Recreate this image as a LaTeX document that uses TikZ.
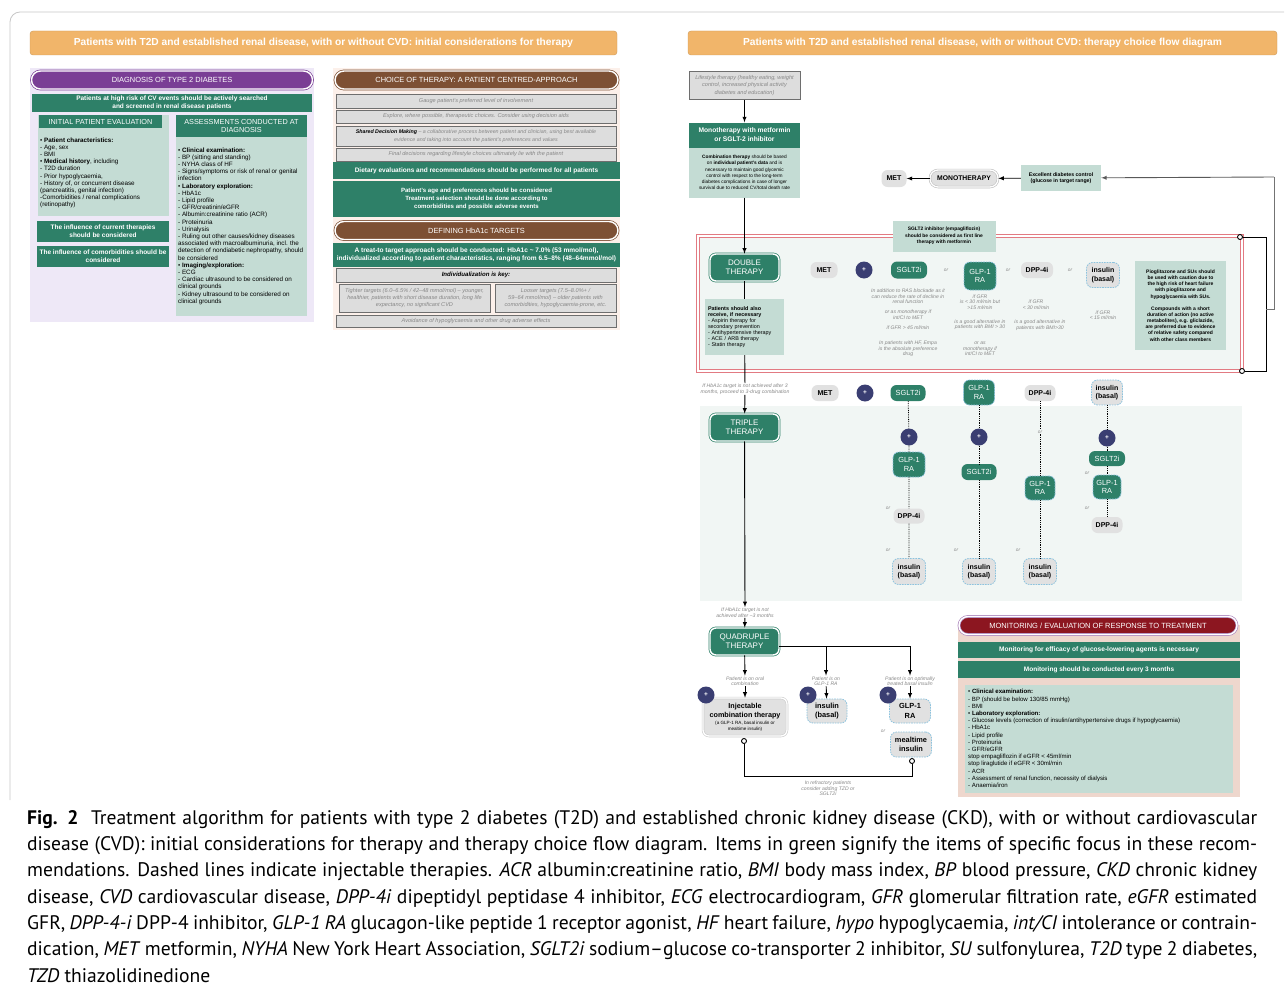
\documentclass[tikz,border=0pt]{standalone}
\usepackage{fontspec}
\setmainfont{Liberation Sans}
\newfontfamily\capfont{PT Sans}
\usetikzlibrary{positioning}

\newcommand\fsz[2]{\fontsize{#1}{#2}\selectfont}

\definecolor{tgreen}{RGB}{46,128,104}
\definecolor{lgreenc}{RGB}{196,220,212}
\definecolor{lavc}{RGB}{238,232,247}
\definecolor{purpc}{RGB}{122,62,149}
\definecolor{peachc}{RGB}{252,240,234}
\definecolor{brownc}{RGB}{125,80,52}
\definecolor{orngc}{RGB}{241,181,106}
\definecolor{gboxc}{RGB}{221,221,221}
\definecolor{glinec}{RGB}{110,110,110}
\definecolor{navyc}{RGB}{58,62,114}
\definecolor{redc}{RGB}{226,122,130}
\definecolor{areac}{RGB}{241,246,244}
\definecolor{monbgc}{RGB}{238,215,205}
\definecolor{dredc}{RGB}{140,22,32}
\definecolor{iblue}{RGB}{140,195,222}
\definecolor{pillc}{RGB}{225,225,225}
\definecolor{txtgray}{RGB}{135,135,135}

\tikzset{
  topbar/.style={fill=orngc, draw=orngc!85!black, rounded corners=3, text=white,
    font=\bfseries\fsz{10.2}{12}, minimum height=24},
  pillhdr/.style={rounded corners=9, fill=#1, draw=#1, double=white, double distance=1.4pt,
    line width=0.7, text=white, font=\fsz{7.45}{8.5}, minimum height=18},
  gbar/.style={fill=tgreen, text=white, font=\bfseries\fsz{6.5}{8}, align=center, inner sep=1},
  lhdr/.style={fill=tgreen, text=white, font=\fsz{7.3}{8.4}, align=center, inner sep=1},
  listtxt/.style={font=\fsz{6.3}{7.2}, align=left, anchor=north west, inner sep=0},
  gbox/.style={fill=gboxc, draw=glinec, line width=0.9, font=\itshape\fsz{5.6}{7.6},
    text=txtgray, align=center, inner sep=1},
  drug/.style={rounded corners=6, fill=pillc, font=\bfseries\fsz{7}{8.6}, align=center,
    inner sep=1.5, minimum height=16},
  sglt/.style={drug, fill=tgreen, text=white, font=\fsz{7.4}{8.8}},
  inj/.style={draw=iblue, line width=0.8, dash pattern=on 1.6pt off 1pt},
  plus/.style={circle, fill=navyc, text=white, font=\bfseries\fsz{6.5}{6.5}, minimum size=17, inner sep=0},
  note/.style={font=\itshape\fsz{5.1}{5.6}, text=txtgray, align=center, inner sep=0.5},
  orlab/.style={font=\itshape\fsz{4.8}{5}, text=txtgray, inner sep=0.5},
  therapy/.style={rounded corners=6, fill=tgreen, draw=tgreen, double=white, double distance=1.4pt,
    line width=0.7, text=white, font=\fsz{8}{9.3}, align=center, minimum width=69, minimum height=27},
  lnote/.style={fill=lgreenc, align=center, inner sep=1},
  dotend/.style={circle, draw, fill=white, line width=0.9, minimum size=5, inner sep=0},
  flow/.style={->, line width=0.9},
  link/.style={line width=0.9},
  dotline/.style={densely dotted, line width=0.8},
}

\begin{document}
\begin{tikzpicture}[x=1pt, y=-1pt, >=latex]
\useasboundingbox (0,0) rectangle (1285,998);
\draw[black!22, line width=0.8, rounded corners=10] (10,800) -- (10,12) -- (1284,12);

% top headers
\node[topbar, minimum width=587] (lefttop) at (323.5,43) {Patients with T2D and established renal disease, with or without CVD: initial considerations for therapy};
\node[topbar, minimum width=589] (righttop) at (982.5,43) {Patients with T2D and established renal disease, with or without CVD: therapy choice flow diagram};

% diagnosis panel
\fill[lavc] (30,68) rectangle (314,322);
\node[pillhdr=purpc, minimum width=281] (diaghdr) at (172,80) {DIAGNOSIS OF TYPE 2 DIABETES};
\node[gbar, minimum width=280, minimum height=18] (cvrisk) at (172,103) {Patients at high risk of CV events should be actively searched\\and screened in renal disease patients};
\fill[lgreenc] (38,115) rectangle (169,216);
\node[lhdr, minimum width=123, minimum height=13] (evalhdr) at (100.5,121.5) {INITIAL PATIENT EVALUATION};
\node[listtxt] (evallist) at (40,137.3) {\textbullet\ \textbf{Patient characteristics:}\\- Age, sex\\- BMI\\\textbullet\ \textbf{Medical history}, including\\- T2D duration\\- Prior hypoglycaemia,\\- History of, or concurrent disease\\(pancreatitis, genital infection)\\-Comorbidities / renal complications\\(retinopathy)};
\fill[lgreenc] (176,115) rectangle (307,316);
\node[lhdr, minimum width=131, minimum height=22] (assesshdr) at (241.5,126) {ASSESSMENTS CONDUCTED AT\\DIAGNOSIS};
\node[listtxt] (assesslist) at (178,147.3) {\textbullet\ \textbf{Clinical examination:}\\- BP (sitting and standing)\\- NYHA class of HF\\- Signs/symptoms or risk of renal or genital\\infection\\\textbullet\ \textbf{Laboratory exploration:}\\- HbA1c\\- Lipid profile\\- GFR/creatinin/eGFR\\- Albumin:creatinine ratio (ACR)\\- Proteinuria\\- Urinalysis\\- Ruling out other causes/kidney diseases\\associated with macroalbuminuria, incl. the\\detection of nondiabetic nephropathy, should\\be considered\\\textbullet\ \textbf{Imaging/exploration:}\\- ECG\\- Cardiac ultrasound to be considered on\\clinical grounds\\- Kidney ultrasound to be considered on\\clinical grounds};
\node[gbar, minimum width=132, minimum height=21] (curther) at (103,231.5) {The influence of current therapies\\should be considered};
\node[gbar, minimum width=132, minimum height=21] (comorb) at (103,256.5) {The influence of comorbidities should be\\considered};

% choice of therapy panel
\fill[peachc] (333,68) rectangle (620,330);
\node[pillhdr=brownc, minimum width=283] (choicehdr) at (476.5,80) {CHOICE OF THERAPY: A PATIENT CENTRED-APPROACH};
\node[gbox, minimum width=280, minimum height=14] (gauge) at (476,101) {Gauge patient's preferred level of involvement};
\node[gbox, minimum width=280, minimum height=13] (explore) at (476,116.5) {Explore, where possible, therapeutic choices. Consider using decision aids};
\node[gbox, minimum width=280, minimum height=20, font=\itshape\fsz{5.3}{7.6}] (sdm) at (476,136) {{\color{black}\bfseries Shared Decision Making} – a collaborative process between patient and clinician, using best available\\evidence and taking into account the patient's preferences and values};
\node[gbox, minimum width=280, minimum height=13] (final) at (476,154.5) {Final decisions regarding lifestyle choices ultimately lie with the patient};
\node[gbar, minimum width=287, minimum height=17, font=\bfseries\fsz{6.5}{8}] (diet) at (476.5,170.5) {Dietary evaluations and recommendations should be performed for all patients};
\node[gbar, minimum width=287, minimum height=36, font=\bfseries\fsz{6.1}{8.3}] (agepref) at (476.5,199) {Patient's age and preferences should be considered\\Treatment selection should be done according to\\comorbidities and possible adverse events};
\node[pillhdr=brownc, minimum width=283] (hbahdr) at (476.5,230.5) {DEFINING HbA1c TARGETS};
\node[gbar, minimum width=287, minimum height=24, font=\bfseries\fsz{6.55}{8.2}] (t2t) at (476.5,255) {A treat-to target approach should be conducted: HbA1c \textasciitilde\ 7.0\% (53 mmol/mol),\\individualized according to patient characteristics, ranging from 6.5–8\% (48–64mmol/mol)};
\node[gbox, minimum width=280, minimum height=14, font=\bfseries\itshape\fsz{6.1}{7}, text=black] (indiv) at (476,275) {Individualization is key:};
\node[gbox, minimum width=151, minimum height=28, font=\itshape\fsz{5.6}{6.8}] (tight) at (414.5,298) {Tighter targets (6.0–6.5\% / 42–48 mmol/mol) – younger,\\healthier, patients with short disease duration, long life\\expectancy, no significant CVD};
\node[gbox, minimum width=121, minimum height=28, font=\itshape\fsz{5.6}{6.8}] (loose) at (555.5,298) {Looser targets (7.5–8.0\%+ /\\59–64 mmol/mol) – older patients with\\comorbidities, hypoglycaemia-prone, etc.};
\node[gbox, minimum width=280, minimum height=12] (avoid) at (476,321) {Avoidance of hypoglycaemia and other drug adverse effects};

% flow diagram: backgrounds
\draw[redc, line width=1.1, double=white, double distance=1.4pt, fill=areac] (698,236) rectangle (1242,371);
\fill[areac] (700,406) rectangle (1242,601);

% monotherapy
\node[gbox, minimum width=111, minimum height=28, font=\itshape\fsz{5.6}{7.8}] (lifestyle) at (744.5,85.5) {Lifestyle therapy (healthy eating, weight\\control, increased physical activity\\diabetes and education)};
\node[gbar, minimum width=111, minimum height=25, font=\bfseries\fsz{6.7}{8.8}] (monohdr) at (744.5,135) {Monotherapy with metformin\\or SGLT-2 inhibitor};
\node[lnote, minimum width=111, minimum height=50, font=\fsz{4.8}{6.2}] (monobody) at (744.5,172.5) {\textbf{Combination therapy} should be based\\on \textbf{individual patient's data} and is\\necessary to maintain good glycemic\\control with respect to the long-term\\diabetes complications in case of longer\\survival due to reduced CV/total death rate};
\draw[flow] (lifestyle) -- (monohdr);
\node[drug, minimum width=25, minimum height=17] (met0) at (894,178.5) {MET};
\node[drug, rounded corners=8, draw=black!25, double=white, double distance=1.3pt, line width=0.6, minimum width=68, minimum height=17, font=\bfseries\fsz{6.8}{8}] (mono) at (964,178.5) {MONOTHERAPY};
\node[lnote, minimum width=80, minimum height=26, font=\bfseries\fsz{5.2}{6.4}] (excel) at (1061,178) {Excellent diabetes control\\(glucose in target range)};
\draw[flow] (mono) -- (met0);
\draw[flow] (excel) -- (mono);
\node[dotend] (redtop) at (1240,237) {};
\node[dotend] (redbot) at (1242,371) {};
\coordinate (br1) at (1266,237);
\coordinate (br2) at (1266,371);
\coordinate (brm) at (1266,309);
\coordinate (rt1) at (1274,309);
\coordinate (rt2) at (1274,177);
\draw[link] (redtop) -- (br1) -- (br2) -- (redbot);
\draw[link, black!55] (brm) -- (rt1) -- (rt2);
\draw[flow, black!65] (rt2) -- (excel);

% double therapy
\node[lnote, minimum width=103, minimum height=31, font=\bfseries\fsz{4.9}{6.6}] (sgltnote) at (944,236) {SGLT2 inhibitor (empagliflozin)\\should be considered as first line\\therapy with metformin};
\node[therapy] (double) at (744.5,267.5) {DOUBLE\\THERAPY};
\node[fill=lgreenc, text width=73, inner sep=3, minimum height=56, align=left, font=\fsz{5.4}{5.9}] (alsorec) at (744.5,327) {\textbf{Patients should also}\\\textbf{receive, if necessary}\\- Aspirin therapy for\\secondary prevention\\- Antihypertensive therapy\\- ACE / ARB therapy\\- Statin therapy};
\draw[flow] (monobody) -- (double);
\draw[link] (double) -- (alsorec);

\node[drug, minimum width=27] (met1) at (824,270) {MET};
\node[plus] (plus1) at (864,270) {+};
\node[sglt, minimum width=36, minimum height=17] (sglt1) at (909,270) {SGLT2i};
\node[orlab] (or1) at (946,270) {or};
\node[sglt, inj, minimum width=32, minimum height=28] (glp1) at (980,276) {GLP-1\\RA};
\node[orlab] (or2) at (1008,270) {or};
\node[drug, minimum width=32] (dpp1) at (1037,270) {DPP-4i};
\node[orlab] (or3) at (1070,270) {or};
\node[drug, inj, minimum width=33, minimum height=25] (ins1) at (1103,275) {insulin\\(basal)};
\node[lnote, minimum width=91, minimum height=89, font=\bfseries\fsz{5}{6.2}] (piosu) at (1180.5,305.5) {Pioglitazone and SUs should\\be used with caution due to\\the high risk of heart failure\\with pioglitazone and\\hypoglycaemia with SUs.\\[5.8pt]Compounds with a short\\duration of action (no active\\metabolites), e.g. gliclazide,\\are preferred due to evidence\\of relative safety compared\\with other class members};

\node[note] (sgltn) at (908,296.5) {In addition to RAS blockade as it\\can reduce the rate of decline in\\renal function};
\node[note] (sgltm) at (908,314.5) {or as monotherapy if\\int/CI to MET};
\node[note] (sgltg) at (908,328) {if GFR > 45 ml/min};
\node[note] (sglth) at (908,349) {In patients with HF, Empa\\is the absolute preference\\drug};
\node[note] (glpn) at (980,302) {if GFR\\is < 30 ml/min but\\>15 ml/min};
\node[note] (glpb) at (980,324.5) {is a good alternative in\\patients with BMI > 30};
\node[note] (glpm) at (980,349) {or as\\monotherapy if\\int/CI to MET};
\node[note] (dppn) at (1036,304.5) {if GFR\\< 30 ml/min};
\node[note] (dppb) at (1040,325) {is a good alternative in\\patients with BMI>30};
\node[note] (insn) at (1103,315) {if GFR\\< 15 ml/min};

% triple therapy
\node[note, fill=white] (ifnot3) at (745,389) {If HbA1c target is not achieved after 3\\months, proceed to 3-drug combination};
\node[therapy] (triple) at (744.5,427.5) {TRIPLE\\THERAPY};
\draw[link] (alsorec) -- (ifnot3);
\draw[flow] (ifnot3) -- (triple);

\node[drug, minimum width=27] (met2) at (825,393) {MET};
\node[plus] (plus2) at (865,393) {+};
\node[sglt, minimum width=35] (sglt2) at (908,393) {SGLT2i};
\node[sglt, inj, minimum width=31, minimum height=25] (glp2) at (979,392.5) {GLP-1\\RA};
\node[drug, minimum width=31] (dpp2) at (1040,393) {DPP-4i};
\node[drug, inj, minimum width=31, minimum height=25] (ins2) at (1107,392.5) {insulin\\(basal)};

\node[plus] (c1p) at (909,437) {+};
\node[sglt, inj, minimum width=32, minimum height=25] (c1g) at (909,464.5) {GLP-1\\RA};
\node[drug, minimum width=31, minimum height=15] (c1d) at (909,516) {DPP-4i};
\node[drug, inj, minimum width=33, minimum height=26] (c1i) at (909,571.5) {insulin\\(basal)};
\draw[dotline] (sglt2) -- (c1p) -- (c1g) -- (c1d) -- (c1i);
\node[orlab] (c1or1) at (888,508) {or};
\node[orlab] (c1or2) at (888,550) {or};

\node[plus] (c2p) at (979,437) {+};
\node[sglt, minimum width=35] (c2s) at (979,472) {SGLT2i};
\node[drug, inj, minimum width=33, minimum height=26] (c2i) at (979,571.5) {insulin\\(basal)};
\draw[dotline] (glp2) -- (c2p) -- (c2s) -- (c2i);
\node[orlab] (c2or) at (956,550) {or};

\node[sglt, inj, minimum width=30, minimum height=24] (c3g) at (1040,488) {GLP-1\\RA};
\node[drug, inj, minimum width=33, minimum height=26] (c3i) at (1040,571.5) {insulin\\(basal)};
\draw[dotline] (dpp2) -- (c3g) -- (c3i);
\node[orlab, fill=areac] (c3or1) at (1040,432) {or};
\node[orlab] (c3or2) at (1018,550) {or};

\node[plus] (c4p) at (1107,438) {+};
\node[sglt, minimum width=36, minimum height=15] (c4s) at (1107,458.5) {SGLT2i};
\node[sglt, inj, minimum width=28, minimum height=24] (c4g) at (1107,487) {GLP-1\\RA};
\node[drug, minimum width=31] (c4d) at (1107,525) {DPP-4i};
\draw[dotline] (ins2) -- (c4p) -- (c4s) -- (c4g) -- (c4d);
\node[orlab] (c4or1) at (1087,473) {or};
\node[orlab] (c4or2) at (1087,508) {or};

% quadruple therapy
\node[note, fill=white] (ifnot) at (745,612.5) {If HbA1c target is not\\achieved after \textasciitilde3 months};
\node[therapy] (quad) at (744.5,641.5) {QUADRUPLE\\THERAPY};
\draw[flow] (triple) -- (ifnot);
\draw[flow] (ifnot) -- (quad);

\coordinate (qj1) at (826,646);
\coordinate (qj2) at (910,646);
\draw[link] (quad.east |- qj1) -- (qj2);
\node[note] (onoral) at (745,681) {Patient is on oral\\combination};
\node[note] (onglp) at (826,681) {Patient is on\\GLP-1 RA};
\node[note] (onbasal) at (910,681) {Patient is on optimally\\treated basal insulin};

\node[drug, rounded corners=6, draw=black!20, double=white, double distance=1.3pt, line width=0.6, minimum width=84, minimum height=38, font=\bfseries\fsz{7.2}{8.8}] (inject) at (745,717) {Injectable\\combination therapy\\[-1.8pt]{\mdseries\fsz{4.6}{5}(a GLP-1 RA, basal insulin or}\\[-2.8pt]{\mdseries\fsz{4.6}{5}mealtime insulin)}};
\node[drug, inj, minimum width=40, minimum height=24, font=\bfseries\fsz{7.4}{9.2}] (qins) at (827,711) {insulin\\(basal)};
\node[drug, inj, minimum width=41, minimum height=24, font=\bfseries\fsz{7.4}{9.2}] (qglp) at (910,711) {GLP-1\\RA};
\node[orlab] (qor) at (883,731) {or};
\node[drug, inj, minimum width=41, minimum height=25, font=\bfseries\fsz{7.4}{9.2}] (qmeal) at (911,744.5) {mealtime\\insulin};
\node[plus] (qp1) at (706,695) {+};
\node[plus] (qp2) at (808,695) {+};
\node[plus] (qp3) at (888,695) {+};

\draw[flow] (quad) -- (onoral);
\draw[flow] (qj1) -- (onglp);
\draw[flow] (qj2) -- (onbasal);
\draw[flow] (onoral) -- (inject);
\draw[flow] (onglp) -- (qins);
\draw[flow] (onbasal) -- (qglp);

\node[dotend] (inje) at (744,741) {};
\node[dotend] (meale) at (912,761) {};
\coordinate (rb1) at (744,776);
\coordinate (rb2) at (912,776);
\draw[link] (inje) -- (rb1) -- (rb2) -- (meale);
\node[note] (refr) at (828,788.5) {In refractory patients\\consider adding TZD or\\SGLT2i};

% monitoring panel
\fill[monbgc] (958,625) rectangle (1240,797);
\node[pillhdr=dredc, draw=purpc!60, minimum width=278, minimum height=18, font=\fsz{7.5}{8.5}] (monhdr) at (1098,625.5) {MONITORING / EVALUATION OF RESPONSE TO TREATMENT};
\node[gbar, minimum width=282, minimum height=16, font=\bfseries\fsz{6.6}{7.5}] (moneff) at (1099,650) {Monitoring for efficacy of glucose-lowering agents is necessary};
\node[gbar, minimum width=282, minimum height=17, font=\bfseries\fsz{6.5}{7.5}] (mon3m) at (1099,669.5) {Monitoring should be conducted every 3 months};
\fill[lgreenc] (965,685) rectangle (1233,793);
\node[listtxt, font=\fsz{6.1}{7.2}] (monlist) at (968,689.3) {\textbullet\ \textbf{Clinical examination:}\\- BP (should be below 130/85 mmHg)\\- BMI\\\textbullet\ \textbf{Laboratory exploration:}\\- Glucose levels (correction of insulin/antihypertensive drugs if hypoglycaemia)\\- HbA1c\\- Lipid profile\\- Proteinuria\\- GFR/eGFR\\stop empagliflozin if eGFR < 45ml/min\\stop liraglutide if eGFR < 30ml/min\\- ACR\\- Assessment of renal function, necessity of dialysis\\- Anaemia/iron};

% caption
\node[anchor=north west, inner sep=0, align=left, font=\capfont\fsz{19.6}{26.3}] (caption) at (27,810) {\makebox[1230pt][s]{\textbf{Fig. 2}\ \ Treatment algorithm for patients with type 2 diabetes (T2D) and established chronic kidney disease (CKD), with or without cardiovascular}\\
\makebox[1230pt][s]{disease (CVD): initial considerations for therapy and therapy choice flow diagram. Items in green signify the items of specific focus in these recom-}\\
\makebox[1230pt][s]{mendations. Dashed lines indicate injectable therapies. \textit{ACR} albumin:creatinine ratio, \textit{BMI} body mass index, \textit{BP} blood pressure, \textit{CKD} chronic kidney}\\
\makebox[1230pt][s]{disease, \textit{CVD} cardiovascular disease, \textit{DPP-4i} dipeptidyl peptidase 4 inhibitor, \textit{ECG} electrocardiogram, \textit{GFR} glomerular filtration rate, \textit{eGFR} estimated}\\
\makebox[1230pt][s]{GFR, \textit{DPP-4-i} DPP-4 inhibitor, \textit{GLP-1 RA} glucagon-like peptide 1 receptor agonist, \textit{HF} heart failure, \textit{hypo} hypoglycaemia, \textit{int/CI} intolerance or contrain-}\\
\makebox[1230pt][s]{dication, \textit{MET} metformin, \textit{NYHA} New York Heart Association, \textit{SGLT2i} sodium–glucose co-transporter 2 inhibitor, \textit{SU} sulfonylurea, \textit{T2D} type 2 diabetes,}\\
\textit{TZD} thiazolidinedione};
\end{tikzpicture}
\end{document}
